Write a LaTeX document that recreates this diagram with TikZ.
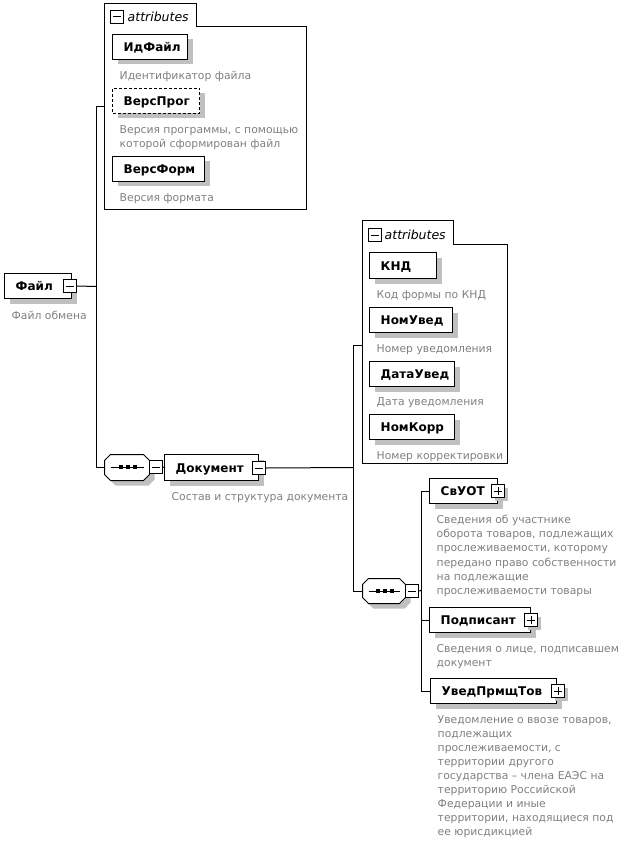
\documentclass[tikz,border=0pt]{standalone}
\usepackage{fontspec}
\setmainfont{DejaVu Sans}
\definecolor{descgray}{RGB}{128,128,128}
\definecolor{shgray}{RGB}{192,192,192}
\tikzset{
  ebox/.style={draw, fill=white, line width=1pt, inner sep=0pt},
  elabel/.style={anchor=base west, inner sep=0pt, font=\bfseries\fontsize{12}{14}\selectfont},
  dtext/.style={anchor=base west, inner sep=0pt, align=left, text=descgray, font=\fontsize{10.8}{14.2}\selectfont},
  icon/.style={draw, fill=white, line width=1pt, minimum size=13pt, inner sep=0pt},
  conn/.style={line width=1pt},
  dashedbox/.style={dash pattern=on 3pt off 2pt},
  attrtxt/.style={anchor=base west, inner sep=0pt, font=\itshape\fontsize{12.5}{14}\selectfont},
}
\newcommand\elem[7]{%
  \fill[shgray] (#2+5,#3+5) rectangle (#4+5,#5+5);
  \node[ebox,#7,minimum width={(#4-#2)*1pt},minimum height={(#5-#3)*1pt}] (#1) at ({(#2+#4)/2},{(#3+#5)/2}) {};
  \node[elabel] (#1-t) at ({#2+11},{(#3+#5)/2+4.5}) {#6};
}
\newcommand\minusicon[3]{%
  \node[icon] (#1) at (#2+6.5,#3+6.5) {};
  \draw[line width=1pt] (#2+2.5,#3+6.5) -- (#2+10.5,#3+6.5);
}
\newcommand\plusicon[3]{%
  \fill[shgray] (#2+3,#3+3) rectangle (#2+16,#3+16);
  \node[icon] (#1) at (#2+6.5,#3+6.5) {};
  \draw[line width=1pt] (#2+2.5,#3+6.5) -- (#2+10.5,#3+6.5) (#2+6.5,#3+2.5) -- (#2+6.5,#3+10.5);
}
\newcommand\seqnode[5]{%
  \fill[shgray] (#2+11,#3+5) -- (#4-1,#3+5) -- (#4+5,#3+11) -- (#4+5,#5-1) -- (#4-1,#5+5) -- (#2+11,#5+5) -- (#2+5,#5-1) -- (#2+5,#3+11) -- cycle;
  \draw[line width=1pt, fill=white] (#2+6,#3) -- (#4-6,#3) -- (#4,#3+6) -- (#4,#5-6) -- (#4-6,#5) -- (#2+6,#5) -- (#2,#5-6) -- (#2,#3+6) -- cycle;
  \node[inner sep=0pt, minimum width={(#4-#2)*1pt}, minimum height={(#5-#3)*1pt}] (#1) at ({(#2+#4)/2},{(#3+#5)/2}) {};
  \draw[line width=1pt] (#2+6,{(#3+#5)/2}) -- (#4-6,{(#3+#5)/2});
  \foreach \k in {0,1,2} {\fill ({(#2+#4)/2-8.5+7*\k},{(#3+#5)/2-2.5}) rectangle ++(4,4);}
}
\begin{document}
\begin{tikzpicture}[x=1pt,y=-1pt]
\useasboundingbox (0,0) rectangle (623,842);
\begin{scope}[shift={(0.5,0.5)}]
% attributes box 1
\draw[line width=1pt] (104,3) -- (196,3) -- (196,26) -- (306,26) -- (306,209) -- (104,209) -- cycle;
\minusicon{a1icon}{110}{10}
\node[attrtxt] (a1txt) at (127,21) {attributes};
\coordinate (attr1) at (104,106);
\elem{idfile}{112}{34}{187}{59}{ИдФайл}{}
\node[dtext] (idfile-d) at (119,79) {Идентификатор файла};
\elem{versprog}{112}{88}{199}{113}{ВерсПрог}{dashedbox}
\node[dtext] (versprog-d) at (119,147.2) {Версия программы, с помощью\\которой сформирован файл};
\elem{versform}{112}{156}{204}{181}{ВерсФорм}{}
\node[dtext] (versform-d) at (119,201) {Версия формата};
% root
\elem{file}{4}{273}{71}{298}{Файл}{}
\minusicon{fileicon}{63}{279}
\node[dtext] (file-d) at (11,319) {Файл обмена};
% sequence 1 and Документ
\seqnode{seq1}{104}{454}{149}{480}
\minusicon{seq1icon}{149}{460}
\elem{doc}{164}{454}{258}{480}{Документ}{}
\minusicon{docicon}{252}{461}
\node[dtext] (doc-d) at (171,500) {Состав и структура документа};
% attributes box 2
\draw[line width=1pt] (362,220) -- (453,220) -- (453,244) -- (507,244) -- (507,463) -- (362,463) -- cycle;
\minusicon{a2icon}{368}{228}
\node[attrtxt] (a2txt) at (384,239) {attributes};
\coordinate (attr2) at (362,345);
\elem{knd}{369}{252}{436}{278}{КНД}{}
\node[dtext] (knd-d) at (376,298) {Код формы по КНД};
\elem{nomuved}{369}{307}{452}{332}{НомУвед}{}
\node[dtext] (nomuved-d) at (376,352) {Номер уведомления};
\elem{datauved}{369}{361}{454}{386}{ДатаУвед}{}
\node[dtext] (datauved-d) at (376,405) {Дата уведомления};
\elem{nomkorr}{369}{414}{454}{439}{НомКорр}{}
\node[dtext] (nomkorr-d) at (376,459) {Номер корректировки};
% sequence 2 and children
\seqnode{seq2}{362}{578}{405}{603}
\minusicon{seq2icon}{405}{584}
\elem{svuot}{429}{478}{497}{503}{СвУОТ}{}
\plusicon{svuoticon}{491}{484}
\node[dtext] (svuot-d) at (436,594) {Сведения об участнике\\оборота товаров, подлежащих\\прослеживаемости, которому\\передано право собственности\\на подлежащие\\прослеживаемости товары};
\elem{podp}{429}{607}{530}{632}{Подписант}{}
\plusicon{podpicon}{524}{613}
\node[dtext] (podp-d) at (436,666.2) {Сведения о лице, подписавшем\\документ};
\elem{uved}{430}{678}{556}{703}{УведПрмщТов}{}
\plusicon{uvedicon}{551}{684}
\node[dtext, font=\fontsize{10.8}{14}\selectfont] (uved-d) at (437,835) {Уведомление о ввозе товаров,\\подлежащих\\прослеживаемости, с\\территории другого\\государства -- члена ЕАЭС на\\территорию Российской\\Федерации и иные\\территории, находящиеся под\\ее юрисдикцией};
% connectors
\coordinate (j1) at (96,286);
\coordinate (j2) at (353,467);
\coordinate (j3) at (421,590);
\draw[conn] (fileicon.east) -- (j1);
\draw[conn] (attr1) -| (j1) |- (seq1.west);
\draw[conn] (seq1icon.east) -- (doc.west);
\draw[conn] (docicon.east) -- (j2);
\draw[conn] (attr2) -| (j2) |- (seq2.west);
\draw[conn] (seq2icon.east) -- (j3);
\draw[conn] (j3) |- (svuot.west);
\draw[conn] (j3) |- (podp.west);
\draw[conn] (j3) |- (uved.west);
\end{scope}
\end{tikzpicture}
\end{document}
